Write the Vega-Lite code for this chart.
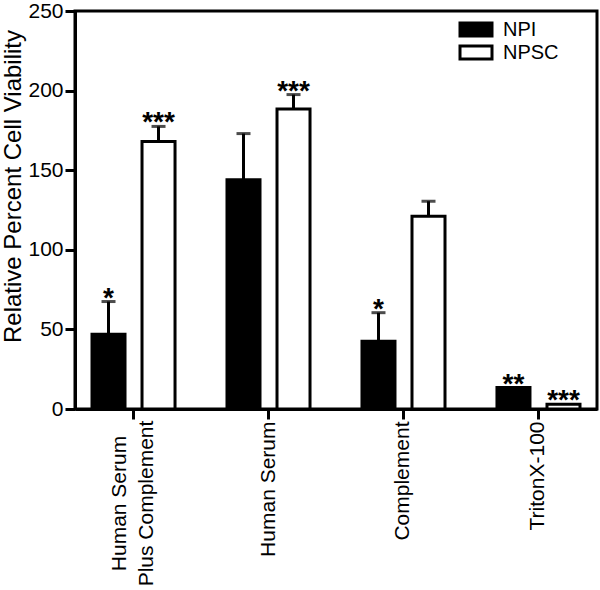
{
  "$schema": "https://vega.github.io/schema/vega-lite/v6.json",
  "width": 522,
  "height": 398,
  "autosize": {"type": "none"},
  "padding": {"left": 75, "top": 11, "right": 3, "bottom": 181},
  "config": {
    "font": "Liberation Sans",
    "view": {"stroke": "black", "strokeWidth": 3},
    "axis": {
      "domainColor": "black", "domainWidth": 3, "tickColor": "black", "tickWidth": 3,
      "tickSize": 10, "labelColor": "black", "titleColor": "black", "grid": false
    }
  },
  "data": {
    "values": [
      {"treatment": "Human Serum Plus Complement", "cells": "NPI", "value": 47, "upper": 67.5, "sig": "*"},
      {"treatment": "Human Serum Plus Complement", "cells": "NPSC", "value": 168, "upper": 177.5, "sig": "***"},
      {"treatment": "Human Serum", "cells": "NPI", "value": 144, "upper": 173, "sig": ""},
      {"treatment": "Human Serum", "cells": "NPSC", "value": 188.5, "upper": 197.5, "sig": "***"},
      {"treatment": "Complement", "cells": "NPI", "value": 42.5, "upper": 60.5, "sig": "*"},
      {"treatment": "Complement", "cells": "NPSC", "value": 121, "upper": 130.5, "sig": ""},
      {"treatment": "TritonX-100", "cells": "NPI", "value": 13.5, "upper": 13.5, "sig": "**"},
      {"treatment": "TritonX-100", "cells": "NPSC", "value": 3, "upper": 3, "sig": "***"}
    ]
  },
  "encoding": {
    "x": {
      "field": "treatment", "type": "nominal",
      "sort": ["Human Serum Plus Complement", "Human Serum", "Complement", "TritonX-100"],
      "scale": {"paddingInner": 0.133, "paddingOuter": 0},
      "axis": {
        "title": null, "labelAngle": -90, "labelFontSize": 21,
        "labelLineHeight": 27, "bandPosition": 0.5,
        "labelExpr": "datum.value == 'Human Serum Plus Complement' ? ['Human Serum', 'Plus Complement'] : datum.value",
        "labelOffset": {
          "condition": {"test": "datum.value == 'Human Serum Plus Complement'", "value": -14},
          "value": 0
        },
        "labelAlign": {
          "condition": {"test": "datum.value == 'Human Serum Plus Complement'", "value": "center"},
          "value": "right"
        },
        "labelPadding": {
          "condition": {"test": "datum.value == 'Human Serum Plus Complement'", "value": 84},
          "value": 2
        }
      }
    },
    "xOffset": {
      "field": "cells", "type": "nominal", "sort": ["NPI", "NPSC"],
      "scale": {"paddingInner": 0.34, "paddingOuter": 0.34}
    }
  },
  "layer": [
    {
      "mark": {"type": "bar", "stroke": "black", "strokeWidth": 3},
      "encoding": {
        "y": {
          "field": "value", "type": "quantitative",
          "scale": {"domain": [0, 250], "nice": false},
          "axis": {
            "title": "Relative Percent Cell Viability", "titleFontSize": 24, "titleFontWeight": "normal",
            "titleX": -62, "titleY": 175, "titleBaseline": "middle", "titleAngle": -90,
            "values": [0, 50, 100, 150, 200, 250], "labelFontSize": 21, "labelPadding": 2
          }
        },
        "fill": {
          "field": "cells", "type": "nominal",
          "scale": {"domain": ["NPI", "NPSC"], "range": ["black", "white"]},
          "legend": {
            "orient": "none", "legendX": 391, "legendY": 8.5, "title": null,
            "symbolType": "M-2,-0.8H2V0.8H-2Z", "symbolSize": 256,
            "symbolStrokeColor": "black", "symbolStrokeWidth": 3,
            "labelFontSize": 20, "labelColor": "black", "labelOffset": 17, "rowPadding": -3
          }
        }
      }
    },
    {
      "transform": [{"filter": "datum.upper > datum.value"}],
      "mark": {"type": "rule", "color": "black", "strokeWidth": 3},
      "encoding": {
        "y": {"field": "value", "type": "quantitative"},
        "y2": {"field": "upper"}
      }
    },
    {
      "transform": [{"filter": "datum.upper > datum.value"}],
      "mark": {"type": "tick", "color": "black", "thickness": 3, "size": 14},
      "encoding": {
        "y": {"field": "upper", "type": "quantitative"}
      }
    },
    {
      "mark": {"type": "text", "fontSize": 28, "fontWeight": "bold", "baseline": "alphabetic", "dy": 5, "color": "black"},
      "encoding": {
        "y": {"field": "upper", "type": "quantitative"},
        "text": {"field": "sig"}
      }
    }
  ]
}
